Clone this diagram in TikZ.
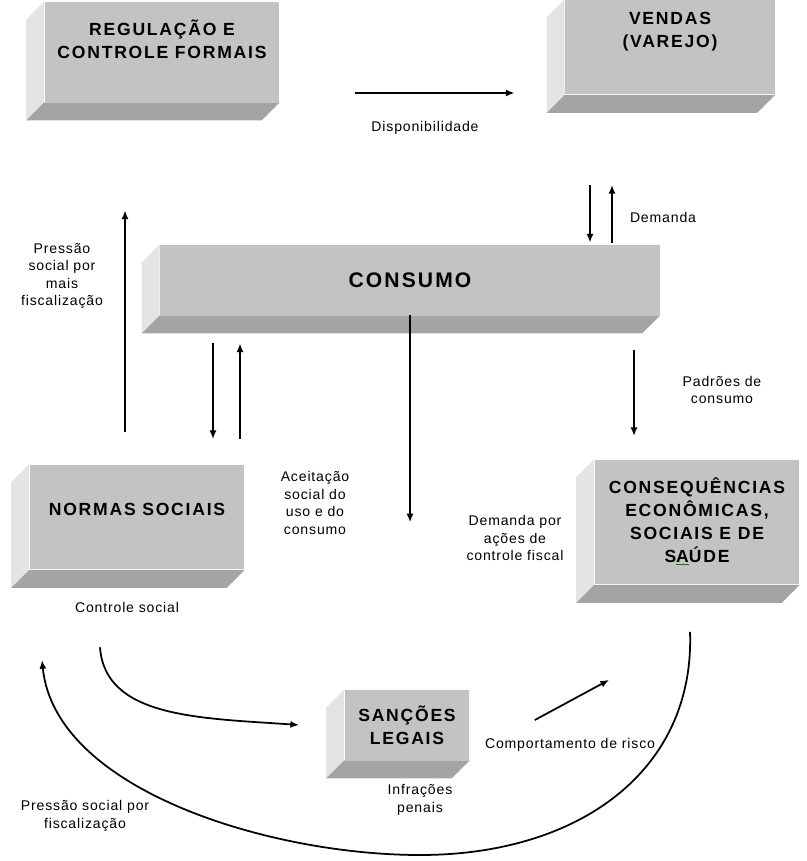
\documentclass[tikz,border=0pt]{standalone}
\usepackage{fontspec}
\setmainfont{Liberation Sans}
\newfontfamily\boxfont[LetterSpace=10]{Liberation Sans}
\newfontfamily\lblfont[LetterSpace=6]{Liberation Sans}
\usepackage{xcolor}
\usetikzlibrary{arrows.meta,positioning}

\definecolor{frontgray}{HTML}{C3C3C3}
\definecolor{sidegray}{HTML}{E4E4E4}
\definecolor{bottomgray}{HTML}{A4A4A4}

\begin{document}
\begin{tikzpicture}[
    x=0.02cm, y=-0.02cm,
    box/.style={rectangle, fill=frontgray, align=center, inner sep=2pt,
        font=\boxfont\fontsize{10}{13}\selectfont\bfseries},
    lbl/.style={align=center, inner sep=1pt, font=\lblfont\fontsize{8}{10}\selectfont},
    arrow/.style={-{Latex[length=5pt,width=4pt]}, line width=1pt}
]
\useasboundingbox (0,0) rectangle (806,861);

\node[box, minimum width=4.7cm, minimum height=2.0cm, text depth=0.5cm] (reg) at (162,52) {REGULAÇÃO E\\CONTROLE FORMAIS};
\node[box, minimum width=4.2cm, minimum height=1.9cm, text depth=0.7cm] (vendas) at (670,47) {VENDAS\\(VAREJO)};
\node[box, minimum width=10cm, minimum height=1.4cm, font=\boxfont\fontsize{12}{14}\selectfont\bfseries] (consumo) at (410,280) {CONSUMO};
\node[box, minimum width=4.3cm, minimum height=2.1cm, text depth=0.3cm] (normas) at (137,517) {NORMAS SOCIAIS};
\node[box, minimum width=4.1cm, minimum height=2.5cm] (conseq) at (697,522)
    {CONSEQUÊNCIAS\\ECONÔMICAS,\\SOCIAIS E DE\\S{\color{green!50!black}\underline{\color{black}A}}ÚDE};
\node[box, minimum width=2.5cm, minimum height=1.4cm] (sancoes) at (407,725) {SANÇÕES\\LEGAIS};

% faces of the boxes
\foreach \n in {reg,vendas,consumo,normas,conseq,sancoes}{
  \fill[sidegray] (\n.north west) -- ++(-18,18) -- ([shift={(-18,18)}]\n.south west) -- (\n.south west) -- cycle;
  \fill[bottomgray] (\n.south west) -- ++(-18,18) -- ([shift={(-18,18)}]\n.south east) -- (\n.south east) -- cycle;
}

% labels
\node[lbl] (disp) at (425,128) {Disponibilidade};
\node[lbl] (dem) at (663,217) {Demanda};
\node[lbl] (press) at (62,276) {Pressão\\social por\\mais\\fiscalização};
\node[lbl] (padroes) at (722,390) {Padrões de\\consumo};
\node[lbl] (aceit) at (315,503) {Aceitação\\social do\\uso e do\\consumo};
\node[lbl] (demctrl) at (515,538) {Demanda por\\ações de\\controle fiscal};
\node[lbl] (ctrl) at (127,607) {Controle social};
\node[lbl] (comp) at (570,745) {Comportamento de risco};
\node[lbl] (infr) at (420,800) {Infrações\\penais};
\node[lbl] (pressfisc) at (85,816) {Pressão social por\\fiscalização};

% connectors
\draw[arrow] ([shift={(75,41)}]reg.east) -- ([shift={(-50,46)}]vendas.west);
\draw[arrow] ([shift={(-80,90)}]vendas.south) -- ([shift={(180,-2)}]consumo.north);
\draw[arrow] ([shift={(202,-2)}]consumo.north) -- ([shift={(-58,90)}]vendas.south);
\draw[arrow] ([shift={(-12,-32)}]normas.north) -- ([shift={(-37,108)}]reg.south);
\draw[arrow] ([shift={(-197,28)}]consumo.south) -- ([shift={(76,-25)}]normas.north);
\draw[arrow] ([shift={(103,-25)}]normas.north) -- ([shift={(-170,28)}]consumo.south);
\draw[arrow] (consumo.south) -- ([shift={(0,207)}]consumo.south);
\draw[arrow] ([shift={(224,35)}]consumo.south) -- ([shift={(-63,-23)}]conseq.north);
\coordinate (ctrlstart) at ([shift={(-27,33)}]ctrl.south);
\draw[arrow] (ctrlstart) .. controls (105,718) and (200,718) .. ([shift={(-45,0)}]sancoes.west);
\draw[arrow] ([shift={(65,-5)}]sancoes.east) -- ([shift={(15,95)}]conseq.south west);
\draw[arrow] ([shift={(-7,47)}]conseq.south) .. controls (695,770) and (580,855) .. (420,855)
    .. controls (270,855) and (55,790) .. (42,660);

\end{tikzpicture}
\end{document}
